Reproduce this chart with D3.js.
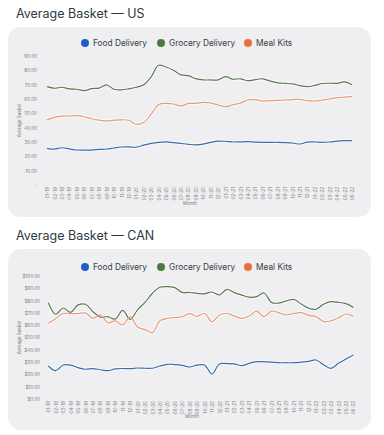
<!DOCTYPE html>
<html><head><meta charset="utf-8">
<script src="https://cdn.jsdelivr.net/npm/d3@7"></script>
<style>
html,body{margin:0;padding:0;background:#fff;}
svg{display:block;font-family:Inter,"Noto Sans",sans-serif;}
</style></head>
<body><svg id="c" width="384" height="435"></svg>
<script>
const months = [];
const yrs = ["19","20","21","22"];
for (const y of yrs) for (let m = 1; m <= 12; m++) { if (y === "22" && m > 6) break; months.push(String(m).padStart(2,"0") + "-" + y); }

const seriesNames = ["Food Delivery", "Grocery Delivery", "Meal Kits"];
const legendColors = ["#1f5fbf", "#4e7a3c", "#e4703f"];
const lineColors = ["#3a6ea8", "#5a7a52", "#e99a78"];

const usFood = [25.6,25.0,26.0,25.2,24.4,24.3,24.4,24.8,25.1,25.8,26.5,26.6,26.4,27.8,29.0,29.8,30.1,29.6,29.0,28.4,28.0,28.5,29.7,30.6,30.5,30.0,30.1,30.2,29.9,29.8,29.8,29.8,29.6,29.3,28.6,29.9,30.0,29.8,30.0,30.6,30.9,30.9];
const usGrocery = [68.6,67.5,68.2,67.0,66.8,65.9,67.2,67.6,69.8,66.8,66.4,67.1,68.2,70.0,75.5,83.5,82.3,80.0,76.8,76.3,74.2,73.3,73.3,73.3,75.6,73.8,74.1,72.8,73.5,74.1,72.5,71.3,70.9,70.6,69.3,68.6,69.5,70.8,71.0,70.9,71.9,70.0];
const usMealKits = [45.4,47.2,48.0,48.2,48.4,47.6,46.2,45.3,44.7,45.2,45.5,45.2,42.4,43.6,49.5,56.2,57.0,56.5,55.2,56.9,57.0,57.7,57.2,55.8,54.6,56.0,57.2,59.3,59.5,58.6,58.8,59.0,59.3,59.6,59.8,58.8,58.6,59.3,60.0,60.9,61.3,61.6];

const canFood = [26.8,23.0,27.6,27.6,25.5,24.2,24.7,23.8,23.0,24.5,24.8,24.7,25.2,25.0,25.0,26.8,28.2,28.0,27.4,26.0,27.6,27.6,20.3,28.5,28.8,28.6,27.1,29.0,30.4,30.2,30.0,29.5,29.5,29.5,30.0,30.6,31.7,27.8,24.9,29.0,32.5,35.8];
const canGrocery = [78.3,68.9,74.0,70.5,76.5,77.0,71.0,66.6,66.9,65.0,72.0,64.8,72.5,78.5,86.0,90.8,91.3,90.5,86.7,86.6,85.9,85.5,87.0,84.6,89.2,86.5,84.5,82.8,83.2,86.2,78.5,78.0,79.8,81.0,77.2,73.8,73.0,77.0,79.1,78.6,77.5,74.5];
const canMealKits = [61.5,65.5,69.5,69.4,69.4,70.0,65.6,68.5,62.0,63.5,60.2,66.8,58.5,56.4,54.0,63.5,65.6,66.2,66.8,69.4,67.2,69.7,62.8,68.3,69.7,67.5,65.6,67.5,71.5,66.9,71.5,70.0,68.3,69.5,70.2,68.0,66.9,63.0,63.5,65.8,69.1,67.2];

const usTicks = [0,10,20,30,40,50,60,70,80,90];
const canTicks = [0,10,20,30,40,50,60,70,80,90,100];

const svg = d3.select("#c");

function drawChart(o) {
  const g = svg.append("g");
  g.append("text").attr("x", 16).attr("y", o.titleY).attr("font-size", 12.5).attr("fill", "#2c3a3f").text(o.title);
  g.append("rect").attr("x", 8).attr("y", o.cardTop).attr("width", 363).attr("height", o.cardH)
    .attr("rx", 13).attr("fill", "#efeef1");
  // legend
  const lx = [85, 161, 248];
  seriesNames.forEach((n, i) => {
    g.append("circle").attr("cx", lx[i]).attr("cy", o.legendY).attr("r", 4).attr("fill", legendColors[i]);
    g.append("text").attr("x", lx[i] + 8).attr("y", o.legendY + 3).attr("font-size", 8.3).attr("fill", "#33413f").text(n);
  });
  const x = d3.scalePoint().domain(months).range(o.xr);
  const y = d3.scaleLinear().domain([0, d3.max(o.ticks)]).range(o.yr);
  const ya = g.append("g").attr("transform", `translate(${o.yAxisX},0)`)
    .call(d3.axisLeft(y).tickValues(o.ticks).tickSize(0).tickPadding(0).tickFormat(o.fmt));
  ya.select(".domain").remove();
  ya.selectAll("text").attr("font-size", 4.6).attr("fill", "#808080").attr("font-family", "Inter,sans-serif");
  const xa = g.append("g").attr("transform", `translate(0,${o.xAxisY})`)
    .call(d3.axisBottom(x).tickSize(0).tickPadding(0));
  xa.select(".domain").remove();
  xa.selectAll("text").attr("font-size", 4.6).attr("fill", "#808080").attr("font-family", "Inter,sans-serif")
    .attr("text-anchor", "end").attr("dy", "0.35em").attr("transform", "rotate(-90)")
    .attr("x", 0).attr("y", 0);
  g.append("text").attr("x", o.monthX).attr("y", o.monthY).attr("text-anchor", "middle").attr("font-size", 4.6).attr("fill", "#808080").text("Month");
  g.append("text").attr("transform", `translate(21,${(o.yr[0] + o.yr[1]) / 2}) rotate(-90)`).attr("text-anchor", "middle").attr("font-size", 4.6).attr("fill", "#808080").text("Average Basket");
  const line = d3.line().x((d, i) => x(months[i])).y(d => y(d)).curve(d3.curveCatmullRom.alpha(0.5));
  o.data.forEach((arr, i) => {
    g.append("path").attr("d", line(arr)).attr("fill", "none").attr("stroke", "#ffffff").attr("stroke-opacity", 0.7).attr("stroke-width", 3.2);
  });
  o.data.forEach((arr, i) => {
    g.append("path").attr("d", line(arr)).attr("fill", "none").attr("stroke", lineColors[i]).attr("stroke-width", 1.2);
  });
}

drawChart({
  title: "Average Basket — US", titleY: 18, cardTop: 27, cardH: 190, legendY: 43,
  xr: [47, 352], yr: [185, 56], ticks: usTicks, yAxisX: 37, xAxisY: 187,
  fmt: d => d === 0 ? "-" : d3.format(".2f")(d), monthX: 190, monthY: 205,
  data: [usFood, usGrocery, usMealKits]
});
drawChart({
  title: "Average Basket — CAN", titleY: 240, cardTop: 249, cardH: 181, legendY: 267,
  xr: [48.3, 353.3], yr: [399, 276], ticks: canTicks, yAxisX: 40, xAxisY: 401,
  fmt: d => "$" + d3.format(".2f")(d), monthX: 192, monthY: 418,
  data: [canFood, canGrocery, canMealKits]
});
</script></body></html>
